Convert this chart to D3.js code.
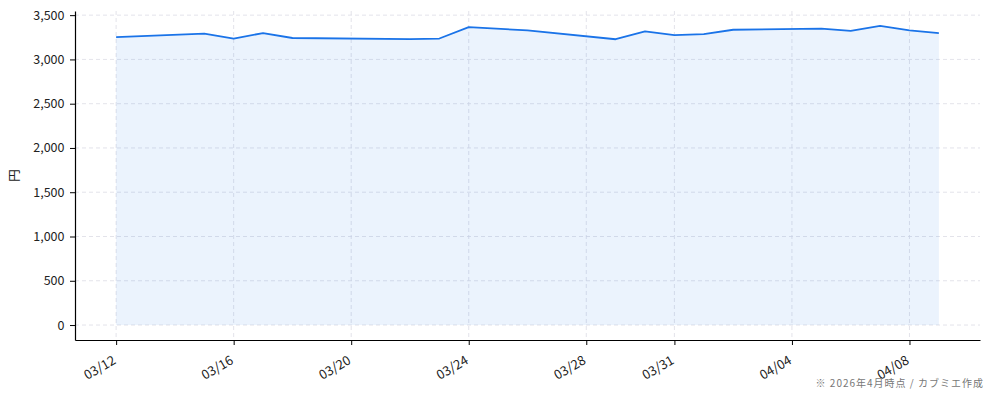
<!DOCTYPE html>
<html>
<head>
<meta charset="utf-8">
<script src="https://cdn.jsdelivr.net/npm/d3@7"></script>
<style>
  body { margin: 0; background: #fff; }
  svg { display: block; font-family: "Noto Sans CJK JP", "Noto Sans", sans-serif; }
  .grid line { stroke: #dcdce4; stroke-dasharray: 4 3; stroke-width: 0.8; }
  .tick text { fill: #222; font-size: 12.5px; }
</style>
</head>
<body>
<svg id="chart" width="994" height="400"></svg>
<script>
// price series (円)
const dates = [
  '2026-03-12', '2026-03-15', '2026-03-16', '2026-03-17', '2026-03-18',
  '2026-03-22', '2026-03-23', '2026-03-24', '2026-03-26', '2026-03-29',
  '2026-03-30', '2026-03-31', '2026-04-01', '2026-04-02', '2026-04-05',
  '2026-04-06', '2026-04-07', '2026-04-08', '2026-04-09'
];
const prices = [
  3252, 3292, 3235, 3298, 3242,
  3230, 3236, 3365, 3328, 3228,
  3316, 3275, 3285, 3335, 3348,
  3322, 3378, 3328, 3298
];
const xTickDates = ['2026-03-12', '2026-03-16', '2026-03-20', '2026-03-24', '2026-03-28', '2026-03-31', '2026-04-04', '2026-04-08'];
const yTicks = [0, 500, 1000, 1500, 2000, 2500, 3000, 3500];

const svg = d3.select('#chart');
const W = 994, H = 400;
const margin = { left: 75, right: 14, top: 11, bottom: 60 };
const FONT = '"Noto Sans CJK JP", "Noto Sans", sans-serif';

const parse = d3.utcParse('%Y-%m-%d');
const data = dates.map((d, i) => ({ date: parse(d), value: prices[i] }));

const t0 = data[0].date.getTime(), t1 = data[data.length - 1].date.getTime();
const padX = (t1 - t0) * 0.05;
const x = d3.scaleUtc()
  .domain([new Date(t0 - padX), new Date(t1 + padX)])
  .range([margin.left, W - margin.right]);

const vMax = d3.max(prices);
const y = d3.scaleLinear()
  .domain([-vMax * 0.05, vMax * 1.05])
  .range([H - margin.bottom, margin.top]);

// grid
svg.append('g').attr('class', 'grid')
  .selectAll('line').data(yTicks).join('line')
  .attr('x1', margin.left).attr('x2', W - margin.right)
  .attr('y1', d => y(d)).attr('y2', d => y(d));
svg.append('g').attr('class', 'grid')
  .selectAll('line').data(xTickDates.map(parse)).join('line')
  .attr('x1', d => x(d)).attr('x2', d => x(d))
  .attr('y1', margin.top).attr('y2', H - margin.bottom);

// area + line
svg.append('path').datum(data)
  .attr('fill', '#1a73e8').attr('fill-opacity', 0.085)
  .attr('d', d3.area().x(d => x(d.date)).y0(y(0)).y1(d => y(d.value)));
svg.append('path').datum(data)
  .attr('fill', 'none').attr('stroke', '#1a73e8').attr('stroke-width', 1.8)
  .attr('stroke-linejoin', 'round')
  .attr('d', d3.line().x(d => x(d.date)).y(d => y(d.value)));

// axes
const fmtX = d3.utcFormat('%m/%d');
const xAxis = svg.append('g')
  .attr('transform', `translate(0,${H - margin.bottom})`)
  .call(d3.axisBottom(x).tickValues(xTickDates.map(parse)).tickFormat(fmtX).tickSize(5).tickSizeOuter(0));
xAxis.selectAll('.tick text')
  .attr('text-anchor', 'end')
  .attr('y', 0).attr('dy', 0)
  .style('font-size', '13px')
  .attr('transform', 'translate(0,23) rotate(-30)');

const yAxis = svg.append('g')
  .attr('transform', `translate(${margin.left},0)`)
  .call(d3.axisLeft(y).tickValues(yTicks).tickFormat(d3.format(',')).tickSize(5).tickSizeOuter(0));
yAxis.selectAll('.tick text').attr('dx', '-0.2em');

[xAxis, yAxis].forEach(a => {
  a.attr('font-family', FONT);
  a.select('.domain').attr('stroke', '#000').attr('stroke-width', 1.2);
  a.selectAll('.tick line').attr('stroke', '#000');
});

svg.append('text')
  .attr('transform', `translate(19,${(margin.top + H - margin.bottom) / 2}) rotate(-90)`)
  .attr('text-anchor', 'middle')
  .attr('font-size', 12.5).attr('fill', '#222')
  .text('円');

svg.append('text')
  .attr('x', W - 10).attr('y', 387)
  .attr('text-anchor', 'end')
  .attr('font-size', 10).attr('letter-spacing', 1).attr('fill', '#777')
  .text('※ 2026年4月時点 / カブミエ作成');
</script>
</body>
</html>
